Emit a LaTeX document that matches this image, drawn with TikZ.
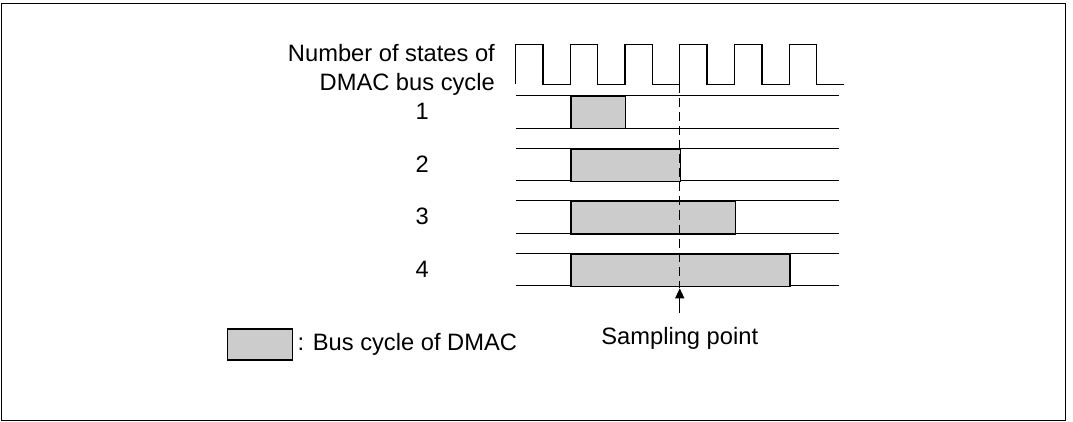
\documentclass[tikz,border=0pt]{standalone}
\usepackage{fontspec}
\setmainfont{Liberation Sans}
\usetikzlibrary{arrows.meta}
\definecolor{boxgray}{RGB}{204,204,204}
\tikzset{
  lbl/.style={inner sep=0pt, font=\fontsize{23.7}{28}\selectfont},
  sig/.style={line width=1.3pt},
  busbox/.style={draw, line width=1.3pt, fill=boxgray},
  frame/.style={line width=1.4pt},
  samp/.style={line width=1.2pt, dash pattern=on 9pt off 5pt},
}
\begin{document}
\begin{tikzpicture}[x=1pt,y=-1pt]
\useasboundingbox (0,0) rectangle (1073,422);
\draw[frame] (1.5,3.3) rectangle (1065.7,420.7);
% clock
\def\tz{515.5}\def\per{54.75}
\draw[sig] (\tz,84.5)
  \foreach \k in {0,...,5}{
    -- ({\tz+\k*\per},44.3) -- ({\tz+\k*\per+\per/2},44.3)
    -- ({\tz+\k*\per+\per/2},84.5) -- ({\tz+(\k+1)*\per},84.5)
  } -- (839,84.5);
% labels
\node[lbl, anchor=base east] (l1) at (495,61.7) {Number of states of};
\node[lbl, anchor=base east] (l2) at (495,90.7) {DMAC bus cycle};
% rows
\foreach \n/\top/\e in {1/95.7/2, 2/148.3/3, 3/200.7/4, 4/253.3/5}{
  \pgfmathsetmacro{\bot}{\top+32.5}
  \pgfmathsetmacro{\xe}{\tz+\e*\per}
  \draw[sig] (\tz,\top) -- (839,\top);
  \draw[sig] (\tz,\bot) -- (839,\bot);
  \node[busbox, inner sep=0pt, anchor=north west, minimum height=32.5pt,
        minimum width={(\xe-\tz-\per)*1pt}] (b\n) at ({\tz+\per},\top) {};
  \node[lbl, anchor=base] (n\n) at (422.3,{\top+24.3}) {\n};
}
% sampling point
\coordinate (ds) at ({\tz+3*\per},84.5);
\coordinate (tip) at ({\tz+3*\per},288.3);
\coordinate (tail) at ({\tz+3*\per},313);
\draw[samp] (ds) -- (tip);
\draw[line width=1.2pt, -{Triangle[length=10pt,width=9pt]}] (tail) -- (tip);
\node[lbl, anchor=base] (sp) at ({\tz+3*\per},344) {Sampling point};
% legend
\node[busbox, inner sep=0pt, minimum width=65pt, minimum height=31pt, anchor=north west] (leg) at (226.7,328.3) {};
\node[lbl, anchor=base west] (legt) at (297.3,350) {: Bus cycle of DMAC};
\end{tikzpicture}
\end{document}
